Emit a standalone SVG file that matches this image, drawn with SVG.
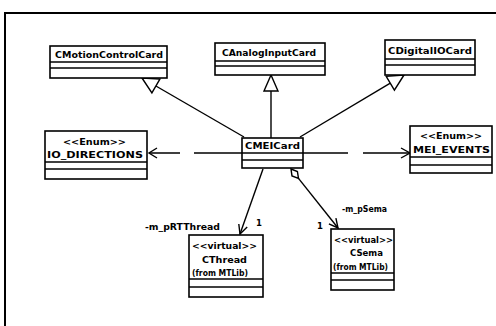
<svg xmlns="http://www.w3.org/2000/svg" width="496" height="326" viewBox="0 0 496 326">
  <style>
    .box { fill: #fff; stroke: #000; stroke-width: 1.6; }
    .sep { stroke: #000; stroke-width: 1.4; }
    .line { fill: none; stroke: #000; stroke-width: 1.4; }
    .tri { fill: #fff; stroke: #000; stroke-width: 1.4; stroke-linejoin: miter; }
    .t { font-family: "DejaVu Sans", "Liberation Sans", sans-serif; font-weight: bold; font-size: 9.5px; fill: #000; }
    .s { font-family: "DejaVu Sans", "Liberation Sans", sans-serif; font-weight: bold; font-size: 8.5px; fill: #000; }
  </style>

  <rect width="496" height="326" fill="#fff"/>
  <!-- diagram frame -->
  <path d="M5,326 V13 H496" fill="none" stroke="#000" stroke-width="2"/>

  <!-- connectors -->
  <g id="connectors">
    <!-- generalizations -->
    <line class="line" x1="155.9" y1="86" x2="244" y2="137"/>
    <polygon class="tri" points="142,78 151.9,92.9 159.9,79.1"/>
    <line class="line" x1="271" y1="91" x2="271" y2="138"/>
    <polygon class="tri" points="271,75 264,91 278,91"/>
    <line class="line" x1="390.3" y1="83.2" x2="300" y2="137"/>
    <polygon class="tri" points="404,75 394.4,90.1 386.2,76.3"/>

    <!-- dependencies -->
    <line class="line" x1="242" y1="153" x2="149" y2="153" stroke-dasharray="48,14,40"/>
    <polyline class="line" points="157,148 149,153 157,158"/>
    <line class="line" x1="303" y1="153" x2="410" y2="153" stroke-dasharray="45,15,60"/>
    <polyline class="line" points="401,148 410,153 401,158"/>

    <!-- association to CThread -->
    <line class="line" x1="263" y1="169" x2="240" y2="234"/>
    <polyline class="line" points="247.2,227 240,234 238.8,224"/>
    <text class="s" x="145" y="230" textLength="75" lengthAdjust="spacingAndGlyphs">-m_pRTThread</text>
    <text class="s" x="256" y="226">1</text>

    <!-- aggregation to CSema -->
    <polygon class="tri" points="291,169 297.4,171.5 298.5,178.4 292,175.9"/>
    <line class="line" x1="298.5" y1="178.4" x2="338" y2="228"/>
    <polyline class="line" points="328.9,223.8 338,228 335.9,218.2"/>
    <text class="s" x="342" y="212" textLength="45" lengthAdjust="spacingAndGlyphs">-m_pSema</text>
    <text class="s" x="317" y="229">1</text>
  </g>

  <!-- classes -->
  <g id="CMotionControlCard">
    <rect class="box" x="50" y="46" width="117" height="32"/>
    <line class="sep" x1="50" y1="62" x2="167" y2="62"/>
    <line class="sep" x1="50" y1="68" x2="167" y2="68"/>
    <text class="t" x="55" y="58" textLength="108" lengthAdjust="spacingAndGlyphs">CMotionControlCard</text>
  </g>

  <g id="CAnalogInputCard">
    <rect class="box" x="215" y="43" width="110" height="32"/>
    <line class="sep" x1="215" y1="61" x2="325" y2="61"/>
    <line class="sep" x1="215" y1="66" x2="325" y2="66"/>
    <text class="t" x="222" y="56" textLength="94" lengthAdjust="spacingAndGlyphs">CAnalogInputCard</text>
  </g>

  <g id="CDigitalIOCard">
    <rect class="box" x="385" y="40" width="90" height="35"/>
    <line class="sep" x1="385" y1="59" x2="475" y2="59"/>
    <line class="sep" x1="385" y1="65" x2="475" y2="65"/>
    <text class="t" x="388" y="54" textLength="84" lengthAdjust="spacingAndGlyphs">CDigitalIOCard</text>
  </g>

  <g id="CMEICard">
    <rect class="box" x="242" y="138" width="61" height="30"/>
    <line class="sep" x1="242" y1="153" x2="303" y2="153"/>
    <line class="sep" x1="242" y1="160" x2="303" y2="160"/>
    <text class="t" x="245" y="149" textLength="55" lengthAdjust="spacingAndGlyphs">CMEICard</text>
  </g>

  <g id="IO_DIRECTIONS">
    <rect class="box" x="45" y="131" width="102" height="48"/>
    <line class="sep" x1="45" y1="162" x2="147" y2="162"/>
    <line class="sep" x1="45" y1="169" x2="147" y2="169"/>
    <text class="t" x="63" y="145" textLength="63" lengthAdjust="spacingAndGlyphs">&lt;&lt;Enum&gt;&gt;</text>
    <text class="t" x="47" y="158" textLength="96" lengthAdjust="spacingAndGlyphs">IO_DIRECTIONS</text>
  </g>

  <g id="MEI_EVENTS">
    <rect class="box" x="410" y="126" width="82" height="47"/>
    <line class="sep" x1="410" y1="157" x2="492" y2="157"/>
    <line class="sep" x1="410" y1="165" x2="492" y2="165"/>
    <text class="t" x="420" y="139" textLength="62" lengthAdjust="spacingAndGlyphs">&lt;&lt;Enum&gt;&gt;</text>
    <text class="t" x="413" y="153" textLength="77" lengthAdjust="spacingAndGlyphs">MEI_EVENTS</text>
  </g>

  <g id="CThread">
    <rect class="box" x="189" y="235" width="74" height="62"/>
    <line class="sep" x1="189" y1="279" x2="263" y2="279"/>
    <line class="sep" x1="189" y1="287" x2="263" y2="287"/>
    <text class="s" x="192" y="249" textLength="65" lengthAdjust="spacingAndGlyphs">&lt;&lt;virtual&gt;&gt;</text>
    <text class="t" x="202" y="263" textLength="45" lengthAdjust="spacingAndGlyphs">CThread</text>
    <text class="s" x="192" y="276" textLength="56" lengthAdjust="spacingAndGlyphs">(from MTLib)</text>
  </g>

  <g id="CSema">
    <rect class="box" x="331" y="229" width="63" height="61"/>
    <line class="sep" x1="331" y1="273" x2="394" y2="273"/>
    <line class="sep" x1="331" y1="280" x2="394" y2="280"/>
    <text class="s" x="334" y="243" textLength="59" lengthAdjust="spacingAndGlyphs">&lt;&lt;virtual&gt;&gt;</text>
    <text class="t" x="350" y="256" textLength="33" lengthAdjust="spacingAndGlyphs">CSema</text>
    <text class="s" x="333" y="270" textLength="55" lengthAdjust="spacingAndGlyphs">(from MTLib)</text>
  </g>
</svg>
